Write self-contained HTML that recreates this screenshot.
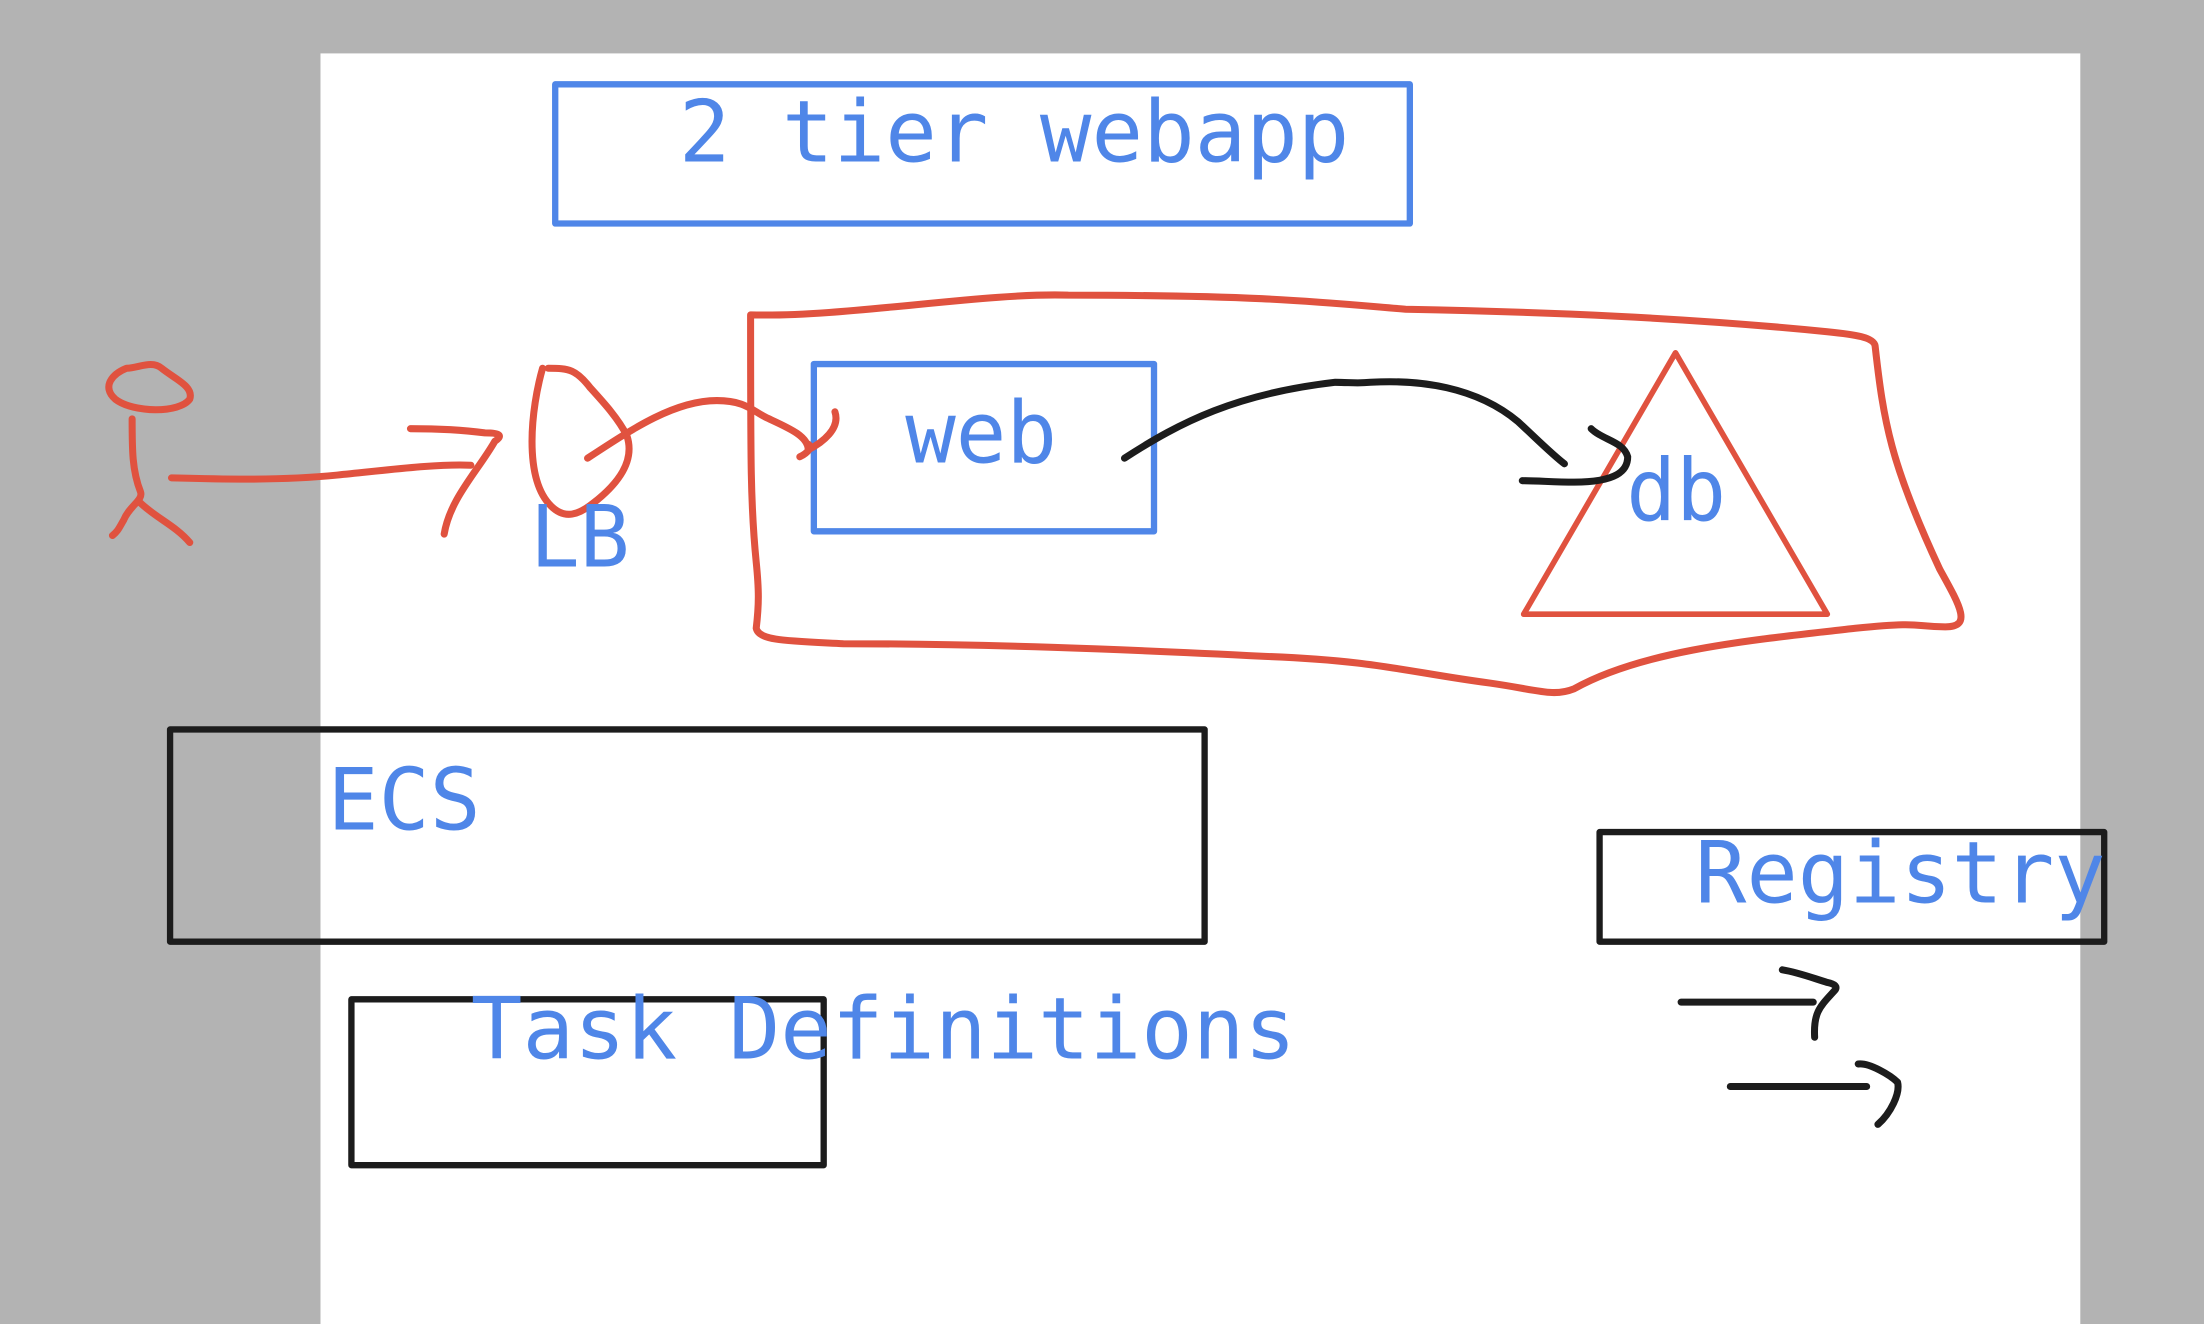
<!DOCTYPE html>
<html><head><style>
html,body{margin:0;padding:0;width:2204px;height:1324px;overflow:hidden;background:#b3b3b3}
svg{display:block}
text{font-family:"DejaVu Sans Mono","Liberation Mono",monospace;font-size:61px;fill:#4f86e8}
</style></head><body>
<svg width="2204" height="1324" viewBox="0 0 1568 942" preserveAspectRatio="none">
<rect x="0" y="0" width="1568" height="942" fill="#b3b3b3"/>
<rect x="228" y="38" width="1252" height="904" fill="#ffffff"/>
<g fill="none" stroke-linecap="round" stroke-linejoin="round">
<rect x="395" y="60" width="608" height="99" stroke="#4f86e8" stroke-width="4.5"/>
<rect x="579" y="259" width="242" height="119" stroke="#4f86e8" stroke-width="4.5"/>
<path d="M1192 251 L1300 437 L1084 437 Z" stroke="#e0523f" stroke-width="4"/>
<path d="M534 224 C600 226 700 208 760 210 C900 210 940 215 1000 220 C1100 222 1200 226 1300 236 C1320 238 1333 240 1334 246 C1340 300 1345 330 1380 405 C1395 432 1403 446 1384 446 C1360 446 1370 442 1320 447 C1250 455 1170 462 1120 490 C1105 496 1095 491 1060 486 C1000 478 980 470 900 467 C800 462 700 458 600 458 C560 456 540 456 538 447 C540 430 540 420 538 400 C534 360 534 330 534 224 Z" stroke="#e0523f" stroke-width="5"/>
<path d="M90 262 C80 266 72 275 82 284 C95 294 128 294 135 284 C138 275 125 270 115 262 C108 256 98 262 90 262 Z" stroke="#e0523f" stroke-width="5"/>
<path d="M94 298 C94 320 94 335 100 350 C102 356 92 360 88 370 C85 375 84 378 80 381 M99 357 C110 368 125 374 135 386" stroke="#e0523f" stroke-width="5"/>
<path d="M122 340 C160 341 200 342 240 338 C280 334 310 330 335 331" stroke="#e0523f" stroke-width="5"/>
<path d="M292 305 C310 305 330 306 345 308 C356 308 358 310 352 314 C340 335 320 355 316 380" stroke="#e0523f" stroke-width="5"/>
<path d="M386 262 C378 290 372 340 392 360 C402 370 412 366 422 358 C440 344 452 328 446 310 C440 298 430 287 420 276 C410 263 405 262 390 262" stroke="#e0523f" stroke-width="5"/>
<path d="M418 326 C450 305 480 285 510 285 C530 285 535 292 545 297 C560 304 575 310 575 320 C585 315 598 305 594 293" stroke="#e0523f" stroke-width="5"/>
<path d="M569 325 C575 322 578 318 575 316" stroke="#e0523f" stroke-width="5"/>
<path d="M800 326 C840 300 880 280 950 272 C960 272 965 273 975 272 C1010 270 1050 275 1080 300 C1095 314 1105 324 1113 330" stroke="#1c1c1c" stroke-width="5"/>
<path d="M1132 305 C1140 313 1155 314 1158 325 C1158 335 1150 343 1120 343 C1105 343 1095 342 1083 342" stroke="#1c1c1c" stroke-width="5"/>
<rect x="121" y="519" width="736" height="151" stroke="#1c1c1c" stroke-width="4.5"/>
<rect x="1138" y="592" width="359" height="78" stroke="#1c1c1c" stroke-width="4.5"/>
<rect x="250" y="711" width="336" height="118" stroke="#1c1c1c" stroke-width="4.5"/>
<path d="M1196 713 L1290 713 M1268 690 C1280 692 1290 696 1300 699 C1305 700 1308 702 1305 705 C1295 716 1290 720 1291 738" stroke="#1c1c1c" stroke-width="5"/>
<path d="M1231 773 L1328 773 M1322 757 C1330 756 1345 765 1350 770 C1352 778 1345 792 1336 800" stroke="#1c1c1c" stroke-width="5"/>
</g>
<text x="483" y="115" textLength="477" lengthAdjust="spacingAndGlyphs">2 tier webapp</text>
<text x="644" y="329" textLength="108" lengthAdjust="spacingAndGlyphs">web</text>
<text x="1157" y="370" textLength="71" lengthAdjust="spacingAndGlyphs">db</text>
<text x="377" y="403" textLength="71" lengthAdjust="spacingAndGlyphs">LB</text>
<text x="233" y="590" textLength="109" lengthAdjust="spacingAndGlyphs">ECS</text>
<text x="1206" y="642" textLength="292" lengthAdjust="spacingAndGlyphs">Registry</text>
<text x="335" y="753" textLength="587" lengthAdjust="spacingAndGlyphs">Task Definitions</text>
</svg>
</body></html>
